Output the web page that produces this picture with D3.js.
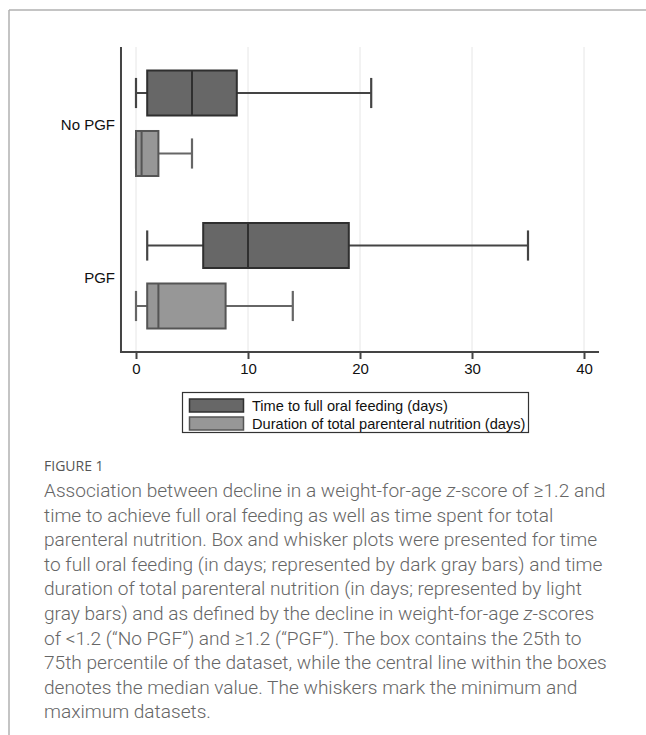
<!DOCTYPE html>
<html>
<head>
<meta charset="utf-8">
<script src="https://cdn.jsdelivr.net/npm/d3@7"></script>
<style>
  html, body { margin: 0; padding: 0; background: #fff; }
  svg { display: block; }
</style>
</head>
<body>
<svg id="chart" width="646" height="735"></svg>
<script>
// ---------- data ----------
const categories = ["No PGF", "PGF"];
const seriesNames = ["Time to full oral feeding (days)", "Duration of total parenteral nutrition (days)"];
const oralMin    = [0, 1];
const oralQ1     = [1, 6];
const oralMedian = [5, 10];
const oralQ3     = [9, 19];
const oralMax    = [21, 35];
const tpnMin     = [0, 0];
const tpnQ1      = [0, 1];
const tpnMedian  = [0.5, 2];
const tpnQ3      = [2, 8];
const tpnMax     = [5, 14];
const xTicks = [0, 10, 20, 30, 40];
const captionLabel = "FIGURE 1";
const captionLines = [
  ["Association between decline in a weight-for-age ", {i: "z"}, "-score of \u22651.2 and"],
  ["time to achieve full oral feeding as well as time spent for total"],
  ["parenteral nutrition. Box and whisker plots were presented for time"],
  ["to full oral feeding (in days; represented by dark gray bars) and time"],
  ["duration of total parenteral nutrition (in days; represented by light"],
  ["gray bars) and as defined by the decline in weight-for-age ", {i: "z"}, "-scores"],
  ["of <1.2 (\u201CNo PGF\u201D) and \u22651.2 (\u201CPGF\u201D). The box contains the 25th to"],
  ["75th percentile of the dataset, while the central line within the boxes"],
  ["denotes the median value. The whiskers mark the minimum and"],
  ["maximum datasets."]
];

// ---------- build ----------
const series = [
  {name: seriesNames[0], min: oralMin, q1: oralQ1, med: oralMedian, q3: oralQ3, max: oralMax,
   fill: "#676767", stroke: "#2f2f2f", whisk: "#444"},
  {name: seriesNames[1], min: tpnMin, q1: tpnQ1, med: tpnMedian, q3: tpnQ3, max: tpnMax,
   fill: "#979797", stroke: "#555", whisk: "#666"}
];

const svg = d3.select("#chart");
const FONT = "'Liberation Sans', Arial, Helvetica, sans-serif";

// frame lines
svg.append("line").attr("x1", 9).attr("x2", 646).attr("y1", 10).attr("y2", 10)
  .attr("stroke", "#b0b0b0").attr("stroke-width", 1.5);
svg.append("line").attr("x1", 9).attr("x2", 9).attr("y1", 10).attr("y2", 735)
  .attr("stroke", "#b0b0b0").attr("stroke-width", 1.5);

const x = d3.scaleLinear().domain([0, 40]).range([136, 584]);
const xLo = -1.34, xHi = 41.34;
const y = d3.scaleBand().domain(categories).range([47, 352]).padding(0);
const sub = d3.scaleBand().domain(seriesNames).range([-52.75, 52.75]).paddingInner(0.256);
const bh = sub.bandwidth();
const capH = bh * 0.67;

// gridlines
svg.append("g").selectAll("line").data(xTicks).join("line")
  .attr("x1", d => x(d)).attr("x2", d => x(d))
  .attr("y1", 47).attr("y2", 352)
  .attr("stroke", "#e6e6e6").attr("stroke-width", 1);

// boxes
series.forEach(s => {
  const g = svg.append("g");
  categories.forEach((c, i) => {
    const cy = y(c) + y.bandwidth() / 2 + sub(s.name) + bh / 2;
    const top = cy - bh / 2;
    if (s.min[i] < s.q1[i]) {
      g.append("line").attr("x1", x(s.min[i])).attr("x2", x(s.q1[i])).attr("y1", cy).attr("y2", cy)
        .attr("stroke", s.whisk).attr("stroke-width", 2);
    }
    g.append("line").attr("x1", x(s.q3[i])).attr("x2", x(s.max[i])).attr("y1", cy).attr("y2", cy)
      .attr("stroke", s.whisk).attr("stroke-width", 2);
    [s.min[i], s.max[i]].forEach(v => {
      g.append("line").attr("x1", x(v)).attr("x2", x(v))
        .attr("y1", cy - capH / 2).attr("y2", cy + capH / 2)
        .attr("stroke", s.whisk).attr("stroke-width", 2.2);
    });
    g.append("rect").attr("x", x(s.q1[i])).attr("y", top)
      .attr("width", x(s.q3[i]) - x(s.q1[i])).attr("height", bh)
      .attr("fill", s.fill).attr("stroke", s.stroke).attr("stroke-width", 2);
    g.append("line").attr("x1", x(s.med[i])).attr("x2", x(s.med[i]))
      .attr("y1", top).attr("y2", top + bh)
      .attr("stroke", s.stroke).attr("stroke-width", 2);
  });
});

// axes
svg.append("line").attr("x1", x(xLo)).attr("x2", x(xLo)).attr("y1", 47).attr("y2", 352)
  .attr("stroke", "#444").attr("stroke-width", 2);
svg.append("line").attr("x1", x(xLo) - 1).attr("x2", x(xHi)).attr("y1", 352).attr("y2", 352)
  .attr("stroke", "#444").attr("stroke-width", 2);

const xAxis = svg.append("g").attr("transform", "translate(0,352)")
  .call(d3.axisBottom(x).tickValues(xTicks).tickSize(7).tickPadding(4).tickSizeOuter(0));
xAxis.select(".domain").remove();
xAxis.selectAll(".tick line").attr("stroke", "#444").attr("stroke-width", 2);
xAxis.selectAll(".tick text").attr("font-family", FONT).attr("font-size", 15).attr("fill", "#111");

const yAxis = svg.append("g").attr("transform", `translate(115,0)`)
  .call(d3.axisLeft(y).tickSize(0).tickPadding(0));
yAxis.select(".domain").remove();
yAxis.selectAll(".tick text").attr("font-family", FONT).attr("font-size", 15).attr("fill", "#111")
  .attr("dy", "0.45em");

// legend
const leg = svg.append("g");
leg.append("rect").attr("x", 182.5).attr("y", 392.5).attr("width", 346).attr("height", 40)
  .attr("fill", "#fff").attr("stroke", "#333").attr("stroke-width", 1.2);
series.forEach((s, i) => {
  const ly = 399 + i * 18;
  leg.append("rect").attr("x", 189.5).attr("y", ly).attr("width", 54).attr("height", 13)
    .attr("fill", s.fill).attr("stroke", s.stroke).attr("stroke-width", 1.5);
  leg.append("text").attr("x", 252).attr("y", ly + 12)
    .attr("font-family", FONT).attr("font-size", 14.6).attr("fill", "#111").text(s.name);
});

// caption
const CAPFONT = "Roboto, 'Open Sans', sans-serif";
svg.append("text").attr("x", 44).attr("y", 471)
  .attr("font-family", "'Open Sans', 'Noto Sans', sans-serif").attr("font-size", 14).attr("font-weight", 500)
  .attr("fill", "#555").text(captionLabel);

const cap = svg.append("g");
const lineH = 24.6;
captionLines.forEach((parts, k) => {
  const t = cap.append("text").attr("x", 44).attr("y", 497 + k * lineH)
    .attr("font-family", CAPFONT).attr("font-weight", 300).attr("fill", "#666");
  parts.forEach(p => {
    if (typeof p === "string") t.append("tspan").text(p);
    else t.append("tspan").attr("font-style", "italic").text(p.i);
  });
});
cap.selectAll("text").attr("font-size", 18);
const widest = d3.max(cap.selectAll("text").nodes(), n => n.getComputedTextLength());
const fs = 18 * 563 / widest;
cap.selectAll("text").attr("font-size", fs);
</script>
</body>
</html>
